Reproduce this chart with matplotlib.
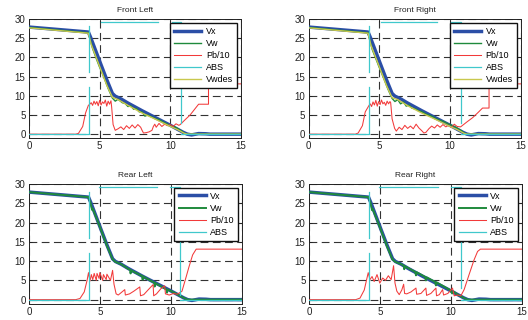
import numpy as np
import matplotlib
matplotlib.use("Agg")
import matplotlib.pyplot as plt

plt.rcParams['font.family'] = ['Liberation Sans', 'DejaVu Sans']

titles = ["Front Left", "Front Right", "Rear Left", "Rear Right"]
x_ticks = [0, 5, 10, 15]
y_ticks = [0, 5, 10, 15, 20, 25, 30]

# Vehicle speed Vx (same for all wheels)
vx_t = [0, 4.2, 4.35, 5.0, 5.5, 5.9, 6.1, 6.5, 7.0, 8.0, 9.0, 10.0, 10.5, 10.9, 11.2, 11.5, 12.0, 12.5, 12.8, 15]
vx = [27.9, 26.6, 25.3, 19.0, 14.2, 10.6, 9.9, 9.2, 8.1, 6.1, 4.2, 2.3, 1.3, 0.5, 0.0, -0.2, 0.15, 0.1, 0.0, 0.0]

# Wheel speeds Vw
vw_fl_t = [0, 4.2, 4.3, 4.5, 4.8, 5.0, 5.3, 5.6, 5.9, 6.0, 6.1, 6.3, 6.6, 6.8, 7.0, 7.2, 7.4, 7.6, 7.8, 8.0, 8.2, 8.4, 8.6, 8.8, 9.0, 9.2, 9.5, 9.8, 10.0, 10.3, 10.5, 10.8, 11.0, 11.2, 15]
vw_fl = [27.8, 26.4, 25.0, 22.3, 19.3, 17.4, 14.8, 11.9, 9.4, 9.0, 8.6, 9.1, 8.2, 8.0, 7.2, 7.4, 6.5, 6.7, 5.8, 5.8, 4.7, 5.0, 4.6, 4.3, 3.9, 3.8, 3.1, 2.6, 2.1, 1.9, 1.5, 0.8, 0.2, 0.0, 0.0]
vw_fr_t = [0, 4.2, 4.3, 4.5, 4.8, 5.0, 5.3, 5.6, 5.9, 6.0, 6.1, 6.3, 6.5, 6.7, 6.9, 7.1, 7.3, 7.6, 7.8, 8.0, 8.3, 8.5, 8.8, 9.0, 9.3, 9.6, 9.9, 10.2, 10.5, 10.8, 11.0, 11.2, 15]
vw_fr = [27.8, 26.4, 24.8, 22.0, 19.2, 17.3, 14.6, 11.8, 9.3, 8.9, 8.5, 9.0, 7.9, 8.4, 7.3, 7.6, 6.8, 6.5, 6.0, 5.9, 5.2, 5.0, 4.5, 4.0, 3.6, 3.2, 2.6, 2.2, 1.6, 0.9, 0.3, 0.0, 0.0]
vw_rl_t = [0, 4.2, 4.35, 4.45, 4.5, 5.0, 5.5, 5.9, 6.1, 6.5, 7.0, 7.15, 7.17, 7.2, 8.0, 8.02, 8.05, 8.85, 8.87, 8.9, 9.7, 9.74, 9.78, 10.0, 10.5, 10.9, 11.2, 15]
vw_rl = [27.9, 26.6, 25.0, 23.3, 23.6, 18.9, 14.0, 10.5, 9.8, 9.2, 8.0, 7.7, 6.8, 7.6, 6.1, 5.2, 6.0, 4.4, 3.4, 4.3, 2.7, 1.8, 2.6, 2.3, 1.3, 0.5, 0.0, 0.0]
vw_rr_t = [0, 4.2, 4.35, 4.45, 4.5, 5.0, 5.5, 5.9, 6.1, 6.5, 6.7, 6.72, 6.75, 7.5, 7.55, 7.6, 8.2, 8.25, 8.3, 8.9, 8.96, 9.0, 10.0, 10.1, 10.2, 10.5, 10.9, 11.2, 15]
vw_rr = [27.9, 26.6, 25.0, 23.2, 23.5, 18.8, 13.9, 10.4, 9.8, 9.2, 8.8, 7.9, 8.7, 7.2, 6.3, 7.1, 5.9, 5.0, 5.8, 4.6, 3.7, 4.5, 2.4, 1.6, 2.1, 1.3, 0.5, 0.0, 0.0]

# Desired wheel speed (front wheels only)
vwdes_fl_t = [0, 4.2, 4.4, 5.0, 5.5, 5.9, 6.3, 7.0, 8.0, 9.0, 10.0, 10.5, 11.0, 11.2, 15]
vwdes_fl = [27.7, 26.3, 23.4, 17.6, 12.8, 9.6, 9.0, 7.5, 5.5, 3.8, 2.0, 1.2, 0.2, 0.0, 0.0]
vwdes_fr_t = [0, 4.2, 4.4, 5.0, 5.5, 5.9, 6.3, 7.0, 8.0, 9.0, 10.0, 10.5, 11.0, 11.2, 15]
vwdes_fr = [27.7, 26.3, 23.2, 17.5, 12.7, 9.5, 9.0, 7.4, 5.5, 3.8, 2.0, 1.2, 0.2, 0.0, 0.0]

# Brake pressure / 10
pb_fl_t = [0, 3.3, 3.5, 3.8, 4.0, 4.2, 4.3, 4.4, 4.5, 4.6, 4.7, 4.8, 4.9, 5.0, 5.1, 5.2, 5.3, 5.4, 5.5, 5.6, 5.7, 5.8, 5.85, 5.95, 6.1, 6.3, 6.5, 6.7, 6.9, 7.1, 7.3, 7.5, 7.7, 7.9, 8.0, 8.1, 8.3, 8.5, 8.7, 8.8, 8.9, 9.0, 9.2, 9.4, 9.6, 9.8, 10.0, 10.2, 10.4, 10.6, 10.7, 11.0, 11.4, 11.7, 12.0, 12.7, 12.7, 15]
pb_fl = [0, 0, 0.2, 2.0, 5.5, 7.5, 7.8, 8.2, 7.5, 8.6, 7.8, 8.5, 7.4, 8.8, 7.6, 8.4, 8.0, 8.9, 7.3, 8.6, 7.8, 8.7, 7.0, 2.5, 1.0, 1.4, 1.9, 1.2, 2.2, 1.5, 2.4, 1.6, 2.5, 1.8, 1.0, 0.3, 0.4, 0.6, 1.0, 2.0, 2.6, 1.8, 2.8, 2.0, 2.6, 2.2, 2.5, 2.0, 2.7, 2.3, 2.5, 3.6, 5.0, 6.4, 7.8, 7.8, 13.1, 13.1]
pb_fr_t = [0, 3.3, 3.5, 3.8, 4.0, 4.27, 4.35, 4.45, 4.55, 4.65, 4.75, 4.85, 4.95, 5.05, 5.15, 5.25, 5.35, 5.45, 5.55, 5.65, 5.75, 5.8, 5.9, 6.08, 6.2, 6.4, 6.6, 6.8, 7.0, 7.2, 7.4, 7.6, 7.8, 8.0, 8.15, 8.3, 8.5, 8.7, 8.9, 9.1, 9.3, 9.5, 9.7, 9.9, 10.1, 10.3, 10.5, 10.75, 11.2, 11.6, 12.0, 12.3, 12.76, 12.76, 15]
pb_fr = [0, 0, 0.3, 2.2, 5.8, 7.5, 7.9, 7.2, 8.4, 7.6, 8.8, 7.3, 8.5, 7.7, 8.9, 7.9, 8.3, 7.5, 8.6, 7.9, 8.5, 8.2, 4.0, 1.5, 0.8, 1.8, 1.2, 2.3, 1.5, 2.1, 1.4, 2.6, 1.6, 0.9, 0.3, 0.5, 1.4, 2.1, 1.6, 2.4, 1.8, 2.5, 1.9, 2.3, 1.7, 2.6, 2.0, 1.9, 3.2, 4.3, 5.7, 6.8, 6.8, 13.1, 13.1]
pb_rl_t = [0, 3.3, 3.6, 3.9, 4.1, 4.2, 4.3, 4.4, 4.5, 4.6, 4.75, 4.8, 4.95, 5.0, 5.2, 5.25, 5.45, 5.5, 5.75, 5.9, 6.0, 6.15, 6.3, 6.5, 6.76, 6.8, 7.1, 7.4, 7.82, 7.87, 8.1, 8.4, 8.76, 8.8, 9.0, 9.3, 9.58, 9.63, 9.9, 10.2, 10.45, 10.64, 10.8, 11.1, 11.3, 11.55, 11.8, 12.0, 15]
pb_rl = [0, 0, 0.3, 2.0, 5.0, 7.0, 4.8, 6.5, 5.2, 6.8, 5.0, 6.8, 5.5, 7.0, 5.0, 6.5, 5.2, 6.6, 5.0, 7.6, 4.0, 1.5, 1.2, 1.8, 2.6, 1.2, 1.5, 2.2, 3.3, 1.0, 1.3, 2.5, 3.9, 1.0, 1.5, 2.8, 3.6, 1.5, 1.2, 1.6, 1.4, 1.8, 2.2, 6.0, 8.6, 11.6, 13.1, 13.1, 13.1]
pb_rr_t = [0, 3.3, 3.6, 3.9, 4.18, 4.3, 4.45, 4.6, 4.8, 5.0, 5.2, 5.4, 5.6, 5.8, 5.97, 6.07, 6.2, 6.37, 6.55, 6.68, 6.75, 6.9, 7.2, 7.55, 7.6, 7.9, 8.25, 8.3, 8.6, 8.96, 9.0, 9.2, 9.43, 9.5, 9.8, 10.13, 10.25, 10.5, 10.72, 10.95, 11.3, 11.65, 11.9, 12.1, 15]
pb_rr = [0, 0, 0.4, 2.5, 7.0, 5.2, 6.0, 4.7, 6.5, 4.3, 5.6, 5.0, 6.2, 5.2, 8.8, 4.3, 2.2, 1.3, 2.5, 4.0, 1.6, 1.5, 2.0, 3.0, 1.4, 1.6, 3.0, 1.1, 1.6, 3.0, 1.0, 1.3, 2.6, 1.2, 1.6, 3.0, 1.0, 1.2, 1.0, 2.6, 6.5, 10.3, 12.5, 13.1, 13.1]

# ABS flag (as drawn; gaps where the trace is not visible)
abs_front_t = [0, 4.27, 4.27, 4.27, np.nan, 4.27, 4.27, np.nan, 5.09, 9.1, np.nan, 10.1, 10.75, 10.75, np.nan, 10.75, 15]
abs_front = [0, 0, 0, 12.2, np.nan, 16.3, 28.2, np.nan, 29.2, 29.2, np.nan, 29.2, 29.2, 2.8, np.nan, 0, 0]
abs_rl_t = [0, 4.24, 4.24, 4.24, np.nan, 4.24, 4.24, np.nan, 4.95, 9.04, np.nan, 9.94, 10.64, 10.64, np.nan, 10.64, 15]
abs_rl = [0, 0, 0, 12.1, np.nan, 16.0, 28.0, np.nan, 29.1, 29.1, np.nan, 29.1, 29.1, 1.3, np.nan, 0, 0]
abs_rr_t = [0, 4.26, 4.26, 4.26, np.nan, 4.26, 4.26, np.nan, 4.96, 9.12, np.nan, 10.0, 10.72, 10.72, np.nan, 10.72, 15]
abs_rr = [0, 0, 0, 12.1, np.nan, 15.9, 28.0, np.nan, 29.1, 29.1, np.nan, 29.1, 29.1, 3.0, np.nan, 0, 0]

c_vx = '#2b4ea6'
c_vw = '#1f8a3c'
c_pb = '#f23a3a'
c_abs = '#40c8cc'
c_des = '#c9c84e'

fig = plt.figure(figsize=(5.28, 3.2), dpi=100)
W, H = 528.0, 320.0
rects = [
    (29 / W, 1 - 138 / H, 212 / W, 119 / H),
    (308.7 / W, 1 - 138 / H, 212 / W, 119 / H),
    (29 / W, 1 - 303.5 / H, 212.5 / W, 119.5 / H),
    (309 / W, 1 - 303.5 / H, 212.5 / W, 119.5 / H),
]
panels = [
    (vw_fl_t, vw_fl, pb_fl_t, pb_fl, abs_front_t, abs_front, vwdes_fl_t, vwdes_fl),
    (vw_fr_t, vw_fr, pb_fr_t, pb_fr, abs_front_t, abs_front, vwdes_fr_t, vwdes_fr),
    (vw_rl_t, vw_rl, pb_rl_t, pb_rl, abs_rl_t, abs_rl, None, None),
    (vw_rr_t, vw_rr, pb_rr_t, pb_rr, abs_rr_t, abs_rr, None, None),
]

for i, (rect, p) in enumerate(zip(rects, panels)):
    ax = fig.add_axes(rect)
    vwt, vw, pbt, pb, abt, ab, dt, dv = p
    ax.plot(vx_t, vx, color=c_vx, lw=2.5, label='Vx', zorder=3)
    ax.plot(vwt, vw, color=c_vw, lw=1.0 if i < 2 else 1.4, label='Vw', zorder=4)
    ax.plot(pbt, pb, color=c_pb, lw=0.75, label='Pb/10', zorder=5)
    ax.plot(abt, ab, color=c_abs, lw=0.9, label='ABS', zorder=6)
    if dt is not None:
        ax.plot(dt, dv, color=c_des, lw=1.0, label='Vwdes', zorder=5)
    ax.set_xlim(0, 15)
    ax.set_ylim(-1, 30)
    ax.set_xticks(x_ticks)
    ax.set_yticks(y_ticks)
    ax.grid(True, color='#333333', linestyle=(0, (7, 4)), lw=0.8)
    ax.set_axisbelow(True)
    ax.tick_params(direction='in', length=2.5, width=0.6, labelsize=7,
                   top=True, right=True, pad=2.5, colors='#222222')
    for s in ax.spines.values():
        s.set_linewidth(0.7)
        s.set_color('#222222')
    ax.set_title(titles[i], fontsize=6, pad=5, color='#222222')
    anchor = (0.982, 0.969) if i < 2 else (0.982, 0.97)
    leg = ax.legend(loc='upper right', bbox_to_anchor=anchor, borderaxespad=0,
                    fontsize=6.5, handlelength=3.0, handletextpad=0.5,
                    labelspacing=0.35, borderpad=0.45, fancybox=False,
                    framealpha=1, edgecolor='#111111')
    leg.get_frame().set_linewidth(1.0)
    leg.set_zorder(10)

fig.savefig('out.png', dpi=100)
